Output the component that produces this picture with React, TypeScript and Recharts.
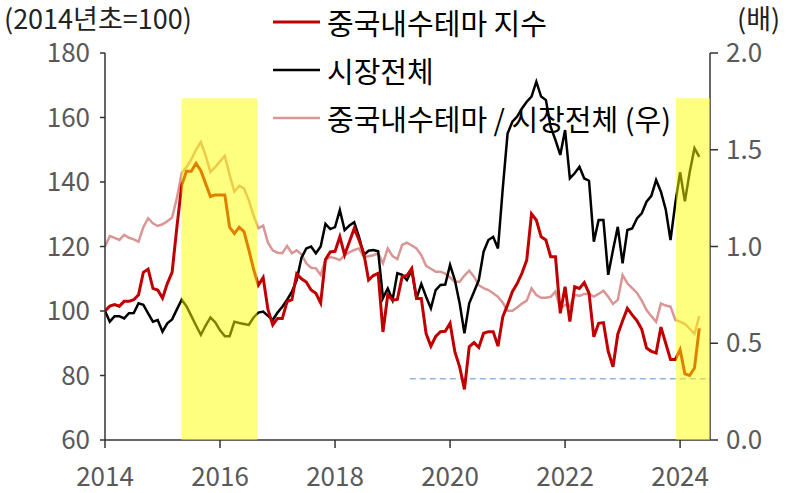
import React from "react";
import {
  LineChart,
  Line,
  XAxis,
  YAxis,
  ReferenceArea,
  ReferenceLine,
} from "recharts";

// Monthly values, Jan 2014 .. May 2024
const themeIndex = [
  100, 101.5, 102, 101.5, 103, 103, 103.5, 105, 112, 113, 107, 106.5,
  104, 108.5, 112, 126, 139, 143.3, 143.3, 145.8, 143.5, 139.5, 135.5, 136,
  136, 136, 126, 124, 126, 124.6, 119, 113, 108, 110.4, 100.5, 95.7,
  97.7, 97.7, 102.9, 103.5, 111.5, 110, 109, 106.5, 105.5, 102.5, 116, 118.3,
  118.5, 123, 117.4, 121.5, 125.6, 122, 117.9, 109.6, 111, 111.7, 93.5, 105,
  103.4, 103.6, 110.6, 111, 113.2, 103.9, 103.9, 93, 89.1, 92.1, 93.6, 93.7,
  96.2, 87.4, 82.7, 75.7, 88.9, 90.2, 88.7, 93.1, 93.6, 93.6, 89.1, 98.2,
  101.9, 106, 108.5, 111.7, 115.8, 130.1, 128.2, 123, 122, 116.8, 116.8, 99.3,
  107.5, 96.7, 107.5, 107, 108.8, 105.5, 92, 96.2, 96.4, 87.5, 82.7, 92.8,
  97, 100.8, 98.8, 97, 94.3, 88.5, 87.5, 87, 95, 90, 85, 85,
  88, 80.5, 80, 82.3, 94.6,
];

const marketIndex = [
  100, 96.7, 98.4, 98.4, 97.7, 99.3, 99.4, 102.4, 101.9, 99.3, 96.7, 97.2,
  93.6, 96.2, 97.4, 100.5, 103.5, 101.5, 98.5, 95.5, 92.6, 95.5, 98, 96.5,
  94, 92.2, 92.2, 96.7, 96.3, 96, 95.7, 98, 99.5, 99.8, 98.5, 97.2,
  99.5, 101.3, 103.5, 106, 109.6, 116.5, 119.4, 120, 117.9, 120, 127, 125.4,
  126, 131.3, 125.1, 126.5, 127.5, 123, 117.4, 118.7, 118.9, 118.5, 104, 107,
  103.4, 111.7, 111.2, 109.6, 112.7, 103.9, 108.4, 104.4, 100.8, 106.5, 108.1, 108.2,
  114.3, 109.6, 102.4, 93.1, 102.4, 106, 109.6, 118.4, 122, 123, 119.4, 138,
  155, 158.7, 160.3, 162.8, 164.9, 166.5, 171.1, 166.5, 165.4, 157.1, 153, 148.4,
  156.1, 141.1, 142.7, 144.7, 141.1, 140.4, 121.5, 128.2, 128.2, 111.2, 118.9, 126.1,
  114.8, 125.1, 125.6, 128.7, 130.3, 133.9, 135.7, 140.6, 137, 131.5, 122, 133.4,
  143, 134, 143, 150.5, 147.8,
];

const relativeRatio = [
  1.0, 1.054, 1.045, 1.034, 1.06, 1.045, 1.037, 1.025, 1.1, 1.146, 1.12, 1.106,
  1.115, 1.13, 1.15, 1.25, 1.38, 1.41, 1.45, 1.5, 1.54, 1.47, 1.385, 1.41,
  1.44, 1.468, 1.37, 1.283, 1.313, 1.3, 1.24, 1.16, 1.094, 1.108, 1.02, 0.98,
  0.968, 0.965, 1.003, 0.965, 0.98, 0.96, 0.913, 0.89, 0.887, 0.853, 0.93, 0.945,
  0.94, 0.93, 0.955, 0.97, 0.982, 0.99, 0.945, 0.95, 0.955, 0.965, 0.913, 0.99,
  0.95, 0.935, 1.008, 1.02, 1.005, 0.99, 0.955, 0.9, 0.885, 0.87, 0.87, 0.86,
  0.84, 0.818, 0.818, 0.85, 0.875, 0.844, 0.8, 0.785, 0.775, 0.758, 0.74, 0.71,
  0.668, 0.668, 0.685, 0.705, 0.72, 0.784, 0.749, 0.735, 0.735, 0.74, 0.767, 0.68,
  0.698, 0.689, 0.75, 0.745, 0.755, 0.755, 0.741, 0.755, 0.772, 0.74, 0.703, 0.724,
  0.853, 0.81, 0.785, 0.76, 0.72, 0.672, 0.64, 0.611, 0.706, 0.695, 0.689, 0.62,
  0.612, 0.6, 0.575, 0.548, 0.641,
];

const START_YEAR = 2014;
const X_MAX = 2024.52;
const xTicks = [2014, 2016, 2018, 2020, 2022, 2024];
const leftTicks = [60, 80, 100, 120, 140, 160, 180];
const rightTicks = [0, 0.5, 1.0, 1.5, 2.0];

// highlighted periods and the reference level
const highlights = [
  { from: 2015.33, to: 2016.65 },
  { from: 2023.93, to: X_MAX },
];
const HIGHLIGHT_TOP = 166;
const refLevel = 79;
const refFrom = 2019.3;

const seriesNames = {
  theme: "중국내수테마 지수",
  market: "시장전체",
  ratio: "중국내수테마 / 시장전체 (우)",
};

const data = themeIndex.map((v, i) => ({
  t: START_YEAR + i / 12,
  theme: v,
  market: marketIndex[i],
  ratio: relativeRatio[i],
}));

const FONT = "'Noto Sans CJK KR', 'Noto Sans', sans-serif";
const tickStyle = { fill: "#595959", fontSize: 26, fontFamily: FONT };
const AXIS = "#333333";

const legendItems = [
  { name: seriesNames.theme, color: "#C00000", w: 3 },
  { name: seriesNames.market, color: "#000000", w: 2.5 },
  { name: seriesNames.ratio, color: "#D99694", w: 2.5 },
];

const LegendBox = () => (
  <div
    style={{
      position: "absolute",
      left: 273,
      top: -2,
      fontFamily: FONT,
      fontSize: 29,
      color: "#000",
      lineHeight: 1,
    }}
  >
    {legendItems.map((it) => (
      <div
        key={it.name}
        style={{ display: "flex", alignItems: "center", height: 48, whiteSpace: "nowrap" }}
      >
        <svg width={54} height={10} style={{ flex: "none" }}>
          <line x1={0} y1={5} x2={47} y2={5} stroke={it.color} strokeWidth={it.w} />
        </svg>
        <span>{it.name}</span>
      </div>
    ))}
  </div>
);

const unitStyle: React.CSSProperties = {
  position: "absolute",
  top: 4,
  fontFamily: FONT,
  fontSize: 27,
  lineHeight: 1,
  color: "#222",
  whiteSpace: "nowrap",
};

export default function App() {
  return (
    <div style={{ position: "absolute", left: 0, top: 0, width: 790, height: 493 }}>
      <LineChart
        width={790}
        height={493}
        data={data}
        margin={{ top: 53, right: 0, bottom: 13, left: 0 }}
        style={{ fontFamily: FONT }}
      >
        <XAxis
          dataKey="t"
          type="number"
          domain={[START_YEAR, X_MAX]}
          ticks={xTicks}
          allowDataOverflow
          height={40}
          tickSize={8}
          tickMargin={20}
          tick={tickStyle}
          stroke={AXIS}
          strokeWidth={1.5}
        />
        <YAxis
          yAxisId="left"
          domain={[60, 180]}
          ticks={leftTicks}
          width={105}
          tickSize={5}
          tickMargin={10}
          tick={tickStyle}
          stroke={AXIS}
          strokeWidth={1.5}
        />
        <YAxis
          yAxisId="right"
          orientation="right"
          domain={[0, 2]}
          ticks={rightTicks}
          width={80}
          tickSize={8}
          tickMargin={8}
          tick={tickStyle}
          tickFormatter={(v: number) => v.toFixed(1)}
          stroke={AXIS}
          strokeWidth={1.5}
        />
        <ReferenceLine
          yAxisId="left"
          segment={[
            { x: refFrom, y: refLevel },
            { x: X_MAX, y: refLevel },
          ]}
          stroke="#8EB4E3"
          strokeWidth={1.5}
          strokeDasharray="6 4"
        />
        <Line
          yAxisId="right"
          dataKey="ratio"
          stroke="#D99694"
          strokeWidth={2.5}
          dot={false}
          isAnimationActive={false}
        />
        <Line
          yAxisId="left"
          dataKey="market"
          stroke="#000000"
          strokeWidth={2.5}
          dot={false}
          isAnimationActive={false}
        />
        <Line
          yAxisId="left"
          dataKey="theme"
          stroke="#C00000"
          strokeWidth={3}
          dot={false}
          isAnimationActive={false}
        />
        {highlights.map((h) => (
          <ReferenceArea
            key={h.from}
            yAxisId="left"
            x1={h.from}
            x2={h.to}
            y1={60}
            y2={HIGHLIGHT_TOP}
            fill="#FFFF00"
            fillOpacity={0.5}
            stroke="none"
            ifOverflow="hidden"
            zIndex={1500}
          />
        ))}
      </LineChart>
      <div style={{ ...unitStyle, left: 4 }}>(2014년초=100)</div>
      <div style={{ ...unitStyle, left: 737 }}>(배)</div>
      <LegendBox />
    </div>
  );
}
